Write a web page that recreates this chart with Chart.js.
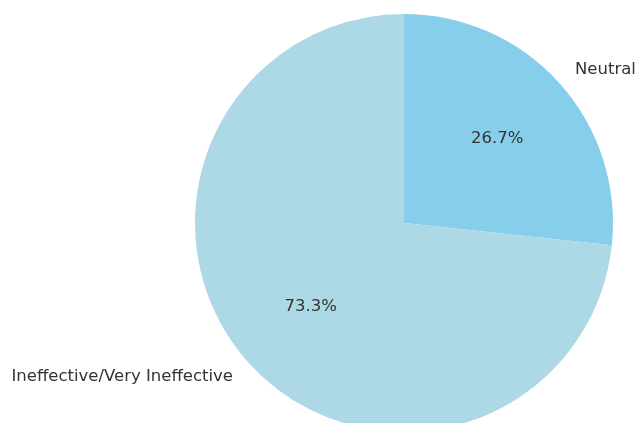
<!DOCTYPE html>
<html>
<head>
<meta charset="utf-8">
<script src="https://cdn.jsdelivr.net/npm/chart.js@4"></script>
<style>
  html, body { margin: 0; padding: 0; background: #fff; overflow: hidden; }
  #wrap { width: 637px; height: 423px; overflow: hidden; position: relative; }
  #wrap canvas { display: block; }
</style>
</head>
<body>
<div id="wrap"><canvas id="pie" width="637" height="450"></canvas></div>
<script>
const categories = ['Neutral', 'Ineffective/Very Ineffective'];
const shares = [26.7, 73.3];
const sliceColors = ['#87CEEB', '#ADD8E6'];

const FONT = '"DejaVu Sans", sans-serif';
const FONT_SIZE = 16.5;
const TEXT_COLOR = '#333333';

// Category names outside each wedge, percentages inside it
const sliceLabels = {
  id: 'sliceLabels',
  afterDatasetsDraw(chart) {
    const ctx = chart.ctx;
    const meta = chart.getDatasetMeta(0);
    ctx.save();
    ctx.font = FONT_SIZE + 'px ' + FONT;
    ctx.fillStyle = TEXT_COLOR;
    ctx.textBaseline = 'middle';
    meta.data.forEach((arc, i) => {
      const p = arc.getProps(['x', 'y', 'startAngle', 'endAngle', 'outerRadius'], true);
      const mid = (p.startAngle + p.endAngle) / 2;
      const cx = Math.cos(mid), cy = Math.sin(mid);
      // percentage at 0.6 R
      ctx.textAlign = 'center';
      ctx.fillText(shares[i].toFixed(1) + '%', p.x + cx * p.outerRadius * 0.6, p.y + cy * p.outerRadius * 0.6);
      // category at 1.1 R
      ctx.textAlign = cx >= 0 ? 'left' : 'right';
      ctx.fillText(categories[i], p.x + cx * p.outerRadius * 1.1, p.y + cy * p.outerRadius * 1.1);
    });
    ctx.restore();
  }
};

new Chart(document.getElementById('pie'), {
  type: 'pie',
  data: {
    labels: categories,
    datasets: [{
      data: shares,
      backgroundColor: sliceColors,
      borderWidth: 0
    }]
  },
  options: {
    responsive: false,
    animation: false,
    rotation: 0,
    layout: { padding: { left: 195, right: 24, top: 14, bottom: 18 } },
    plugins: {
      legend: { display: false },
      tooltip: { enabled: false }
    }
  },
  plugins: [sliceLabels]
});
</script>
</body>
</html>
